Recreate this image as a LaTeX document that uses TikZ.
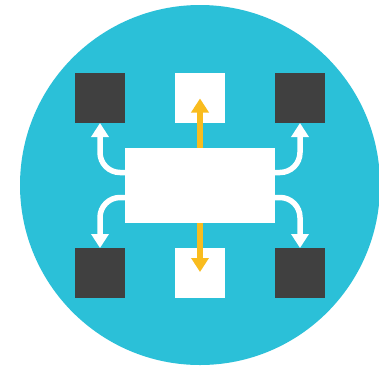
\documentclass[tikz,border=0pt]{standalone}
\usetikzlibrary{arrows.meta}
\definecolor{cyanbg}{RGB}{43,192,216}
\definecolor{darkbox}{RGB}{64,64,64}
\definecolor{yellowarr}{RGB}{249,188,30}
\begin{document}
\begin{tikzpicture}[x=1pt,y=-1pt,
  sq/.style={minimum width=50pt,minimum height=50pt,inner sep=0pt,outer sep=0pt,draw=none},
  darksq/.style={sq,fill=darkbox},
  whitesq/.style={sq,fill=white},
  warr/.style={draw=white,line width=5.5pt,rounded corners=20pt,-{Triangle[width=17pt,length=14pt]}},
  yarr/.style={draw=yellowarr,line width=5.5pt,-{Triangle[width=17pt,length=14pt]}}]
\useasboundingbox (0,0) rectangle (379,367);
\fill[cyanbg] (200,185) circle (180pt);
\node[darksq] (tl) at (100,98) {};
\node[whitesq] (tm) at (200,98) {};
\node[darksq] (tr) at (300,98) {};
\node[darksq] (bl) at (100,273) {};
\node[whitesq] (bm) at (200,273) {};
\node[darksq] (br) at (300,273) {};
\node[fill=white,minimum width=150pt,minimum height=75pt,inner sep=0pt,outer sep=0pt] (c) at (200,185.5) {};
\coordinate (tmtip) at (200,98.5);
\coordinate (bmtip) at (200,272);
\draw[yarr] (c.north) -- (tmtip);
\draw[yarr] (c.south) -- (bmtip);
\draw[warr] ([yshift=-24.5pt]c.north west) -| (tl.south);
\draw[warr] ([yshift=25.5pt]c.south west) -| (bl.north);
\draw[warr] ([yshift=-24.5pt]c.north east) -| (tr.south);
\draw[warr] ([yshift=25.5pt]c.south east) -| (br.north);
\end{tikzpicture}
\end{document}
